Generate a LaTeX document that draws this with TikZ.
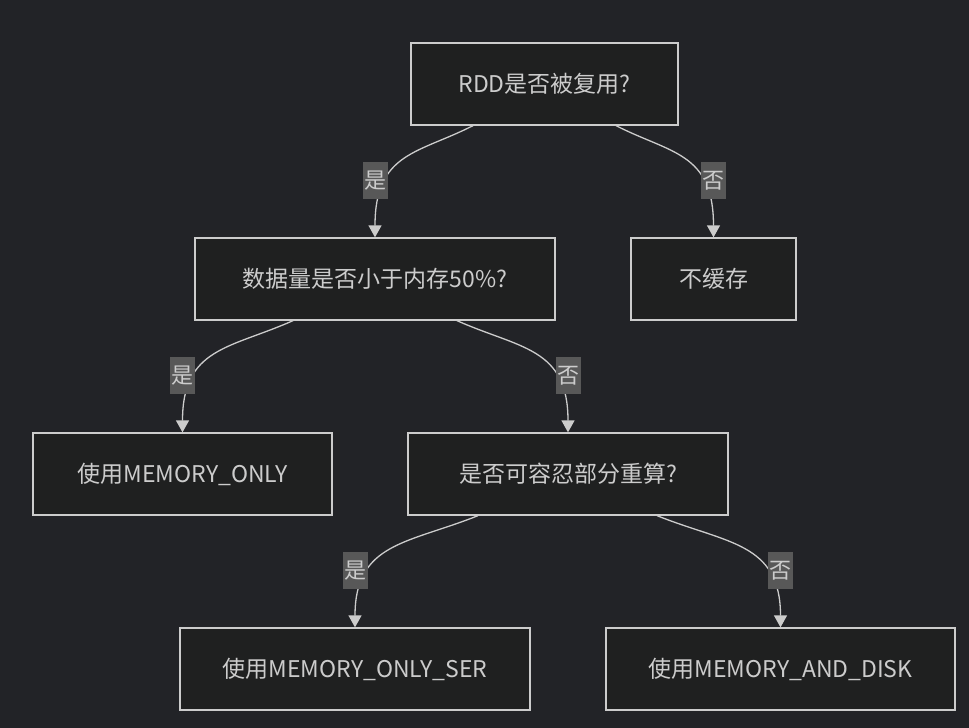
\documentclass[tikz,border=0pt]{standalone}
\usepackage{fontspec}
\setmainfont{Noto Sans CJK SC}
\usetikzlibrary{arrows.meta,calc}

\definecolor{bgcol}{HTML}{222327}
\definecolor{boxfill}{HTML}{1F2020}
\definecolor{boxline}{HTML}{CCCCCC}
\definecolor{txtcol}{HTML}{CCCCCC}
\definecolor{lblfill}{HTML}{585858}

\begin{document}
\begin{tikzpicture}[
  x=1pt, y=-1pt,
  st/.style={draw=boxline, fill=boxfill, line width=1.3pt, minimum height=82pt,
    text=txtcol, font=\fontsize{23}{27}\selectfont, inner sep=0pt},
  lbl/.style={fill=lblfill, text=txtcol, font=\fontsize{22}{26}\selectfont,
    minimum width=25pt, minimum height=37pt, inner sep=0pt},
  edge/.style={draw=boxline, line width=1.3pt},
  >={Triangle[width=13pt,length=12pt]}
]
  \fill[bgcol] (0,0) rectangle (969,728);
  \useasboundingbox (0,0) rectangle (969,728);

  \node[st, minimum width=267pt] (reuse) at (544.5,84)  {RDD是否被复用?};
  \node[st, minimum width=360pt] (size)  at (375,279)   {数据量是否小于内存50\%?};
  \node[st, minimum width=165pt] (none)  at (713.5,279) {不缓存};
  \node[st, minimum width=299pt] (mem)   at (182.5,474) {使用MEMORY\_ONLY};
  \node[st, minimum width=320pt] (recalc) at (568,474)  {是否可容忍部分重算?};
  \node[st, minimum width=350pt] (ser)   at (355,669)   {使用MEMORY\_ONLY\_SER};
  \node[st, minimum width=349pt] (disk)  at (780.5,669) {使用MEMORY\_AND\_DISK};

  % yes / no branches
  \draw[edge,->] ([xshift=-71.5pt]reuse.south) .. controls +(-55,28) and +(0,-85) .. (size.north);
  \node[lbl] at ([yshift=56.5pt]size.north) {是};
  \draw[edge,->] ([xshift=71.5pt]reuse.south) .. controls +(55,28) and +(0,-85) .. (none.north);
  \node[lbl] at ([yshift=56.5pt]none.north) {否};

  \draw[edge,->] ([xshift=-82pt]size.south) .. controls +(-63,28) and +(0,-85) .. (mem.north);
  \node[lbl] at ([yshift=56.5pt]mem.north) {是};
  \draw[edge,->] ([xshift=82pt]size.south) .. controls +(63,28) and +(0,-85) .. (recalc.north);
  \node[lbl] at ([yshift=56.5pt]recalc.north) {否};

  \draw[edge,->] ([xshift=-90pt]recalc.south) .. controls +(-70,28) and +(0,-85) .. (ser.north);
  \node[lbl] at ([yshift=56.5pt]ser.north) {是};
  \draw[edge,->] ([xshift=89pt]recalc.south) .. controls +(70,28) and +(0,-85) .. (disk.north);
  \node[lbl] at ([yshift=56.5pt]disk.north) {否};
\end{tikzpicture}
\end{document}
